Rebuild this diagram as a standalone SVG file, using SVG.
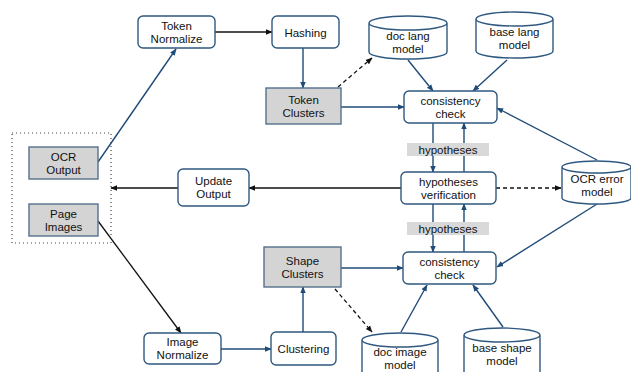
<svg xmlns="http://www.w3.org/2000/svg" width="631" height="372" viewBox="0 0 631 372">
<defs>
<style>
.box{fill:#fff;stroke:#2f5880;stroke-width:1.4}
.gbox{fill:#d4d4d4;stroke:#55708c;stroke-width:1.4}
.cyl{fill:#fff;stroke:#2f5880;stroke-width:1.4}
.lbl{fill:#d9d9d9}
text{font-family:"Liberation Sans",Arial,sans-serif;font-size:11.5px;fill:#111;text-anchor:middle}
.b{stroke:#1f4b78;stroke-width:1.4;fill:none;marker-end:url(#ab)}
.k{stroke:#111;stroke-width:1.3;fill:none;marker-end:url(#ak)}
.d{stroke:#111;stroke-width:1.3;fill:none;stroke-dasharray:4,3;marker-end:url(#ak)}
</style>
<marker id="ab" viewBox="0 0 10 10" refX="9" refY="5" markerWidth="7" markerHeight="7" markerUnits="userSpaceOnUse" orient="auto"><path d="M0,1 L10,5 L0,9 Z" fill="#1f4b78"/></marker>
<marker id="ak" viewBox="0 0 10 10" refX="9" refY="5" markerWidth="7" markerHeight="7" markerUnits="userSpaceOnUse" orient="auto"><path d="M0,1 L10,5 L0,9 Z" fill="#111"/></marker>
</defs>
<rect width="631" height="372" fill="#fff"/>

<g id="connectors">
<line class="b" x1="98" y1="162" x2="176" y2="49"/>
<line class="k" x1="215" y1="32" x2="272" y2="32"/>
<line class="b" x1="303" y1="48" x2="303" y2="88"/>
<line class="d" x1="338" y1="87" x2="372" y2="58"/>
<line class="b" x1="341" y1="107" x2="404" y2="107"/>
<line class="b" x1="408" y1="60" x2="433" y2="91"/>
<line class="b" x1="507" y1="60" x2="473" y2="91"/>
<line class="b" x1="597" y1="160" x2="497" y2="108"/>
<line class="b" x1="433" y1="123" x2="433" y2="172"/>
<line class="b" x1="464" y1="172" x2="464" y2="123"/>
<line class="k" x1="401" y1="188" x2="249" y2="188"/>
<line class="k" x1="178" y1="188" x2="111" y2="188"/>
<line class="d" x1="496" y1="188" x2="561" y2="188"/>
<line class="b" x1="433" y1="204" x2="433" y2="252"/>
<line class="b" x1="464" y1="252" x2="464" y2="204"/>
<line class="b" x1="597" y1="204" x2="497" y2="267"/>
<line class="b" x1="341" y1="268" x2="403" y2="268"/>
<line class="d" x1="335" y1="289" x2="372" y2="332"/>
<line class="b" x1="401" y1="332" x2="427" y2="285"/>
<line class="b" x1="503" y1="327" x2="473" y2="285"/>
<line class="k" x1="98" y1="221" x2="181" y2="333"/>
<line class="b" x1="221" y1="349" x2="271" y2="349"/>
<line class="b" x1="303" y1="332" x2="303" y2="287"/>
</g>

<g id="input-group"><rect x="12" y="133" width="99" height="110" fill="none" stroke="#444" stroke-width="1.2" stroke-dasharray="1,3"/></g>

<g id="ocr-output"><rect class="gbox" x="29" y="147" width="69" height="32"/><text x="63.5" y="160.5">OCR</text><text x="63.5" y="173.5">Output</text></g>
<g id="page-images"><rect class="gbox" x="29" y="204" width="69" height="32"/><text x="63.5" y="217.5">Page</text><text x="63.5" y="230.5">Images</text></g>

<g id="token-normalize"><rect class="box" x="138" y="16" width="77" height="32" rx="5"/><text x="176.5" y="29.5">Token</text><text x="176.5" y="42.5">Normalize</text></g>
<g id="hashing"><rect class="box" x="272" y="16" width="67" height="32" rx="5"/><text x="305.5" y="36.5">Hashing</text></g>
<g id="token-clusters"><rect class="gbox" x="266" y="88" width="75" height="36"/><text x="303.5" y="103.5">Token</text><text x="303.5" y="116.5">Clusters</text></g>

<g id="doc-lang-model"><path class="cyl" d="M369,23 A39,7 0 0 1 447,23 V52 A39,7 0 0 1 369,52 Z M369,23 A39,7 0 0 0 447,23"/><text x="408" y="40">doc lang</text><text x="408" y="53">model</text></g>
<g id="base-lang-model"><path class="cyl" d="M476,19 A38.5,7 0 0 1 553,19 V51 A38.5,7 0 0 1 476,51 Z M476,19 A38.5,7 0 0 0 553,19"/><text x="514.5" y="36">base lang</text><text x="514.5" y="49">model</text></g>

<g id="consistency-check-top"><rect class="box" x="404" y="91" width="93" height="32" rx="5"/><text x="450.5" y="104.5">consistency</text><text x="450.5" y="117.5">check</text></g>

<g id="hyp-label-top"><rect class="lbl" x="407" y="143" width="82" height="13"/><text x="448" y="153.5">hypotheses</text></g>

<g id="hypotheses-verification"><rect class="box" x="401" y="172" width="95" height="32" rx="5"/><text x="448.5" y="185.5">hypotheses</text><text x="448.5" y="198.5">verification</text></g>

<g id="hyp-label-bottom"><rect class="lbl" x="407" y="222" width="82" height="13"/><text x="448" y="232.5">hypotheses</text></g>

<g id="ocr-error-model"><path class="cyl" d="M562,167 A34.5,6 0 0 1 631,167 V198 A34.5,6 0 0 1 562,198 Z M562,167 A34.5,6 0 0 0 631,167"/><text x="597" y="183">OCR error</text><text x="597" y="196">model</text></g>

<g id="update-output"><rect class="box" x="178" y="169" width="71" height="37" rx="5"/><text x="213.5" y="185">Update</text><text x="213.5" y="198">Output</text></g>

<g id="consistency-check-bottom"><rect class="box" x="403" y="252" width="93" height="32" rx="5"/><text x="449.5" y="265.5">consistency</text><text x="449.5" y="278.5">check</text></g>

<g id="shape-clusters"><rect class="gbox" x="264" y="247" width="77" height="40"/><text x="302.5" y="264.5">Shape</text><text x="302.5" y="277.5">Clusters</text></g>

<g id="image-normalize"><rect class="box" x="144" y="333" width="77" height="31" rx="5"/><text x="182.5" y="346">Image</text><text x="182.5" y="359">Normalize</text></g>
<g id="clustering"><rect class="box" x="271" y="332" width="65" height="33" rx="5"/><text x="303.5" y="352.5">Clustering</text></g>

<g id="doc-image-model"><path class="cyl" d="M362,340 A38,7 0 0 1 438,340 V380 A38,7 0 0 1 362,380 Z M362,340 A38,7 0 0 0 438,340"/><text x="400" y="356">doc image</text><text x="400" y="369">model</text></g>
<g id="base-shape-model"><path class="cyl" d="M464,335 A38,7 0 0 1 540,335 V380 A38,7 0 0 1 464,380 Z M464,335 A38,7 0 0 0 540,335"/><text x="502" y="352">base shape</text><text x="502" y="365">model</text></g>
</svg>
